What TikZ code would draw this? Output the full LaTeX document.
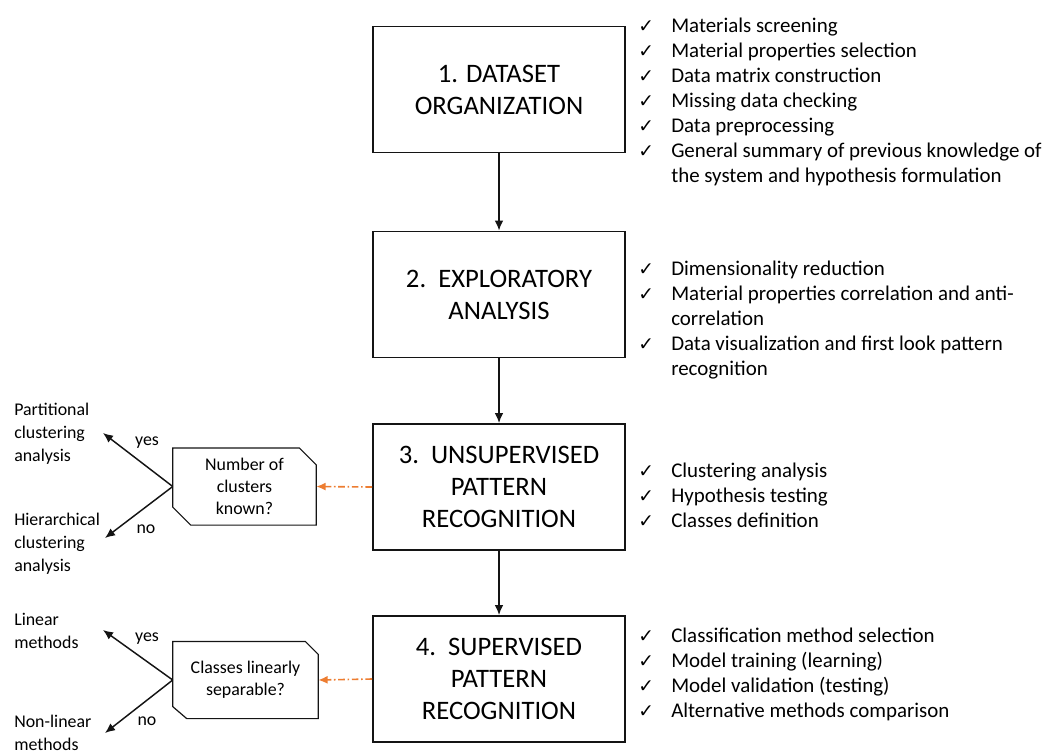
\documentclass[tikz,border=0pt]{standalone}
\usepackage{fontspec}
\setmainfont{Carlito}
\newfontfamily\symfont{DejaVu Sans}
\usetikzlibrary{arrows.meta, positioning, calc}
\definecolor{mydark}{RGB}{20,20,20}
\definecolor{myorange}{RGB}{237,125,49}
\newcommand{\chk}{{\symfont\fontsize{14}{14}\selectfont ✓}}
\tikzset{
  stage/.style={rectangle, draw=mydark, line width=1.4pt,
    minimum width=189pt, minimum height=94.5pt, align=center,
    font=\fontsize{20}{24}\selectfont, inner sep=0pt},
  question/.style={rectangle, minimum height=57.5pt, align=center,
    font=\fontsize{13.4}{16.5}\selectfont, inner sep=0pt},
  qline/.style={draw=mydark, line width=0.9pt},
  arrow/.style={-{Latex[length=7.5pt,width=6.5pt]}, line width=1.1pt, color=mydark},
  dasharrow/.style={-{Latex[length=7pt,width=6pt]}, line width=1.2pt, color=myorange,
    dash pattern=on 5pt off 2pt on 1.2pt off 2pt},
  outcome/.style={align=left, anchor=base west, inner sep=0pt,
    font=\fontsize{13.4}{17}\selectfont},
  answer/.style={font=\fontsize{13.4}{14}\selectfont, inner sep=0pt},
  checklist/.style={anchor=base west, inner sep=0pt, font=\fontsize{15.7}{18.75}\selectfont}
}
\begin{document}
\begin{tikzpicture}[x=0.75pt, y=-0.75pt]
\useasboundingbox (0,0) rectangle (1045,753);

%--- main stages ---
\node[stage] (s1) at (499, 89.5) {1. DATASET\\ORGANIZATION};
\node[stage] (s2) at (499, 294.5) {2.\ \ EXPLORATORY\\ANALYSIS};
\node[stage] (s3) at (499, 487) {3.\ \ UNSUPERVISED\\PATTERN\\RECOGNITION};
\node[stage] (s4) at (499, 679) {4.\ \ SUPERVISED\\PATTERN\\RECOGNITION};
\foreach \a/\b in {s1/s2, s2/s3, s3/s4} { \draw[arrow] (\a) -- (\b); }

%--- check lists ---
\node[checklist] (l1) at (638, 32) {\begin{tabular}[t]{@{}p{24.75pt}@{}l@{}}
\chk & Materials screening\\
\chk & Material properties selection\\
\chk & Data matrix construction\\
\chk & Missing data checking\\
\chk & Data preprocessing\\
\chk & General summary of previous knowledge of\\
     & the system and hypothesis formulation
\end{tabular}};
\node[checklist] (l2) at (638, 275) {\begin{tabular}[t]{@{}p{24.75pt}@{}l@{}}
\chk & Dimensionality reduction\\
\chk & Material properties correlation and anti-\\
     & correlation\\
\chk & Data visualization and first look pattern\\
     & recognition
\end{tabular}};
\node[checklist] (l3) at (638, 477) {\begin{tabular}[t]{@{}p{24.75pt}@{}l@{}}
\chk & Clustering analysis\\
\chk & Hypothesis testing\\
\chk & Classes definition
\end{tabular}};
\node[checklist] (l4) at (638, 642) {\begin{tabular}[t]{@{}p{24.75pt}@{}l@{}}
\chk & Classification method selection\\
\chk & Model training (learning)\\
\chk & Model validation (testing)\\
\chk & Alternative methods comparison
\end{tabular}};

%--- decisions ---
\node[question, minimum width=107.25pt] (q1) at (244.5, 486.5) {Number of\\clusters\\known?};
\draw[qline] (q1.north west) -- ($(q1.north east)+(-17,0)$) -- ($(q1.north east)+(0,17)$)
  -- (q1.south east) -- ($(q1.south west)+(18,0)$) -- ($(q1.south west)+(0,-18)$) -- cycle;
\node[question, minimum width=108.75pt] (q2) at (245.5, 680) {Classes linearly\\separable?};
\draw[qline] (q2.north west) -- ($(q2.north east)+(-13,0)$) -- ($(q2.north east)+(0,13)$)
  -- (q2.south east) -- ($(q2.south west)+(14,0)$) -- ($(q2.south west)+(0,-12)$) -- cycle;
\draw[dasharrow] (s3.west) -- (q1.east);
\draw[dasharrow] (s4.west) -- (q2.east);

% outcomes
\coordinate (y1) at (103, 433);
\coordinate (n1) at (105, 538);
\coordinate (y2) at (103, 630);
\coordinate (n2) at (105, 733);
\draw[arrow] (q1.west) -- (y1);
\draw[arrow] (q1.west) -- (n1);
\draw[arrow] (q2.west) -- (y2);
\draw[arrow] (q2.west) -- (n2);
\node[answer] (ya) at (147, 443) {yes};
\node[answer] (na) at (146, 529) {no};
\node[answer] (yb) at (147, 639) {yes};
\node[answer] (nb) at (147, 721) {no};
% base anchor sits on the last line
\node[outcome] (o1) at (14, 461) {Partitional\\clustering\\analysis};
\node[outcome] (o2) at (14, 571) {Hierarchical\\clustering\\analysis};
\node[outcome] (o3) at (14, 648) {Linear\\methods};
\node[outcome] (o4) at (14, 750) {Non-linear\\methods};
\end{tikzpicture}
\end{document}
